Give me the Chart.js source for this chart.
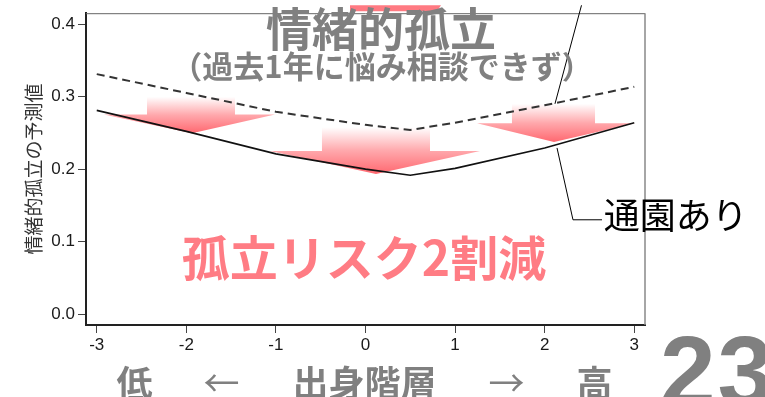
<!DOCTYPE html>
<html>
<head>
<meta charset="utf-8">
<script src="https://cdn.jsdelivr.net/npm/chart.js@4"></script>
<style>
  html, body { margin: 0; padding: 0; background: #ffffff; }
  #wrap { width: 765px; height: 397px; position: relative; }
</style>
</head>
<body>
<div id="wrap"><canvas id="chart" width="765" height="397"></canvas></div>
<script>
// Social class of origin (standardised) and predicted emotional isolation
const socialClass = [-3, -2, -1, 0, 0.5, 1, 2, 3];
const withoutNursery = [0.331, 0.305, 0.279, 0.261, 0.254, 0.264, 0.288, 0.3135];
const withNursery = [0.281, 0.252, 0.221, 0.200, 0.1915, 0.201, 0.229, 0.264];
const xTicks = [-3, -2, -1, 0, 1, 2, 3];
const yTicks = [0, 0.1, 0.2, 0.3, 0.4];

const GRAY = '#808080';
const PINK = '#ff7c84';
const JP = '"Noto Sans CJK JP", "Noto Sans", sans-serif';

// Block arrows showing the drop from the dashed to the solid line (data units)
const dropArrows = [
  { shaft: [-2.439, -1.457], top: 0.2997, head: [-2.92, -1.010], base: 0.2753, tip: [-1.937, 0.2495] },
  { shaft: [-0.486, 0.720], top: 0.2577, head: [-1.066, 1.278], base: 0.2251, tip: [0.117, 0.1932] },
  { shaft: [1.635, 2.562], top: 0.2900, head: [1.245, 3.009], base: 0.2631, tip: [2.104, 0.2373] }
];

const pts = vals => socialClass.map((x, i) => ({ x: x, y: vals[i] }));

const decorations = {
  id: 'decorations',
  beforeDatasetsDraw(chart) {
    const { ctx, scales: { x: xs, y: ys } } = chart;
    const X = v => xs.getPixelForValue(v);
    const Y = v => ys.getPixelForValue(v);
    ctx.save();
    dropArrows.forEach(a => {
      const top = Y(a.top), base = Y(a.base), tipY = Y(a.tip[1]);
      const g = ctx.createLinearGradient(0, top, 0, tipY);
      g.addColorStop(0, 'rgba(255,255,255,1)');
      g.addColorStop(0.5, 'rgb(255,168,172)');
      g.addColorStop(1, 'rgb(255,104,112)');
      ctx.fillStyle = g;
      ctx.beginPath();
      ctx.moveTo(X(a.shaft[0]), top);
      ctx.lineTo(X(a.shaft[1]), top);
      ctx.lineTo(X(a.shaft[1]), base);
      ctx.lineTo(X(a.head[1]), base);
      ctx.lineTo(X(a.tip[0]), tipY);
      ctx.lineTo(X(a.head[0]), base);
      ctx.lineTo(X(a.shaft[0]), base);
      ctx.closePath();
      ctx.fill();
    });
    ctx.restore();
  },
  afterDraw(chart) {
    const { ctx, chartArea: ca, scales: { x: xs, y: ys } } = chart;
    const X = v => xs.getPixelForValue(v);
    const Y = v => ys.getPixelForValue(v);
    ctx.save();

    // top and right frame lines
    ctx.strokeStyle = '#666';
    ctx.lineWidth = 1;
    ctx.beginPath();
    ctx.moveTo(ca.left, ca.top + 0.5);
    ctx.lineTo(ca.right, ca.top + 0.5);
    ctx.stroke();
    ctx.strokeStyle = '#888';
    ctx.lineWidth = 1.5;
    ctx.beginPath();
    ctx.moveTo(ca.right, ca.top);
    ctx.lineTo(ca.right, ca.bottom);
    ctx.stroke();

    // tail of an arrow above the plot
    ctx.fillStyle = 'rgb(255,122,130)';
    ctx.beginPath();
    ctx.moveTo(X(-0.173), Y(0.4259));
    ctx.lineTo(X(0.843), Y(0.4259));
    ctx.lineTo(X(0.798), Y(0.4178));
    ctx.lineTo(X(-0.173), Y(0.4178));
    ctx.closePath();
    ctx.fill();

    // leader lines
    ctx.strokeStyle = '#000';
    ctx.lineWidth = 1;
    ctx.beginPath();
    ctx.moveTo(X(2.115), Y(0.290));
    ctx.lineTo(X(2.411), Y(0.4259));
    ctx.stroke();
    ctx.beginPath();
    ctx.moveTo(X(2.138), Y(0.2292));
    ctx.lineTo(X(2.316), Y(0.1301));
    ctx.lineTo(X(2.640), Y(0.1301));
    ctx.stroke();

    ctx.fillStyle = '#000';
    ctx.font = '36px ' + JP;
    ctx.textAlign = 'left';
    ctx.textBaseline = 'middle';
    ctx.fillText('通園あり', X(2.66), Y(0.1356));

    // headings
    ctx.textAlign = 'center';
    ctx.fillStyle = GRAY;
    ctx.font = 'bold 46px ' + JP;
    ctx.fillText('情緒的孤立', 381, 29);
    ctx.font = 'bold 31px ' + JP;
    ctx.fillText('（過去1年に悩み相談できず）', 382, 66);

    ctx.fillStyle = PINK;
    ctx.font = 'bold 48px ' + JP;
    ctx.fillText('孤立リスク2割減', 364, 258);

    // axis caption
    ctx.fillStyle = GRAY;
    ctx.font = 'bold 36px ' + JP;
    ctx.fillText('低', 134.5, 383);
    ctx.fillText('出身階層', 364.5, 383);
    ctx.fillText('高', 594.5, 383);
    ctx.font = '36px ' + JP;
    ctx.fillText('←', 221.5, 383);
    ctx.fillText('→', 506.5, 383);

    // page number
    ctx.textAlign = 'left';
    ctx.textBaseline = 'alphabetic';
    ctx.font = 'bold 100px "Liberation Sans", Arial, sans-serif';
    ctx.letterSpacing = '2px';
    ctx.fillText('23', 660, 406);
    ctx.restore();
  }
};

new Chart(document.getElementById('chart'), {
  type: 'line',
  data: {
    datasets: [
      {
        label: '通園なし',
        data: pts(withoutNursery),
        borderColor: '#333',
        borderWidth: 2,
        borderDash: [8, 5],
        pointRadius: 0,
        tension: 0,
        fill: false
      },
      {
        label: '通園あり',
        data: pts(withNursery),
        borderColor: '#111',
        borderWidth: 1.6,
        pointRadius: 0,
        tension: 0,
        fill: false
      }
    ]
  },
  options: {
    responsive: false,
    animation: false,
    devicePixelRatio: 1,
    layout: { padding: { top: 8, right: 120, left: 0, bottom: 0 } },
    plugins: { legend: { display: false }, tooltip: { enabled: false } },
    scales: {
      x: {
        type: 'linear',
        min: -3.12,
        max: 3.12,
        afterBuildTicks: s => { s.ticks = xTicks.map(v => ({ value: v })); },
        afterFit: s => { s.height = 72; },
        ticks: {
          callback: v => String(v),
          color: '#1a1a1a',
          font: { family: '"Liberation Sans", Arial, sans-serif', size: 17 },
          padding: 2,
          maxRotation: 0
        },
        grid: { display: true, drawOnChartArea: false, drawTicks: true, tickLength: 8, color: '#444' },
        border: { display: true, color: '#222', width: 2 }
      },
      y: {
        type: 'linear',
        min: -0.015,
        max: 0.415,
        afterBuildTicks: s => { s.ticks = yTicks.map(v => ({ value: v })); },
        afterFit: s => { s.width = 86; },
        ticks: {
          callback: v => v.toFixed(1),
          color: '#1a1a1a',
          font: { family: '"Liberation Sans", Arial, sans-serif', size: 17 },
          padding: 3
        },
        grid: { display: true, drawOnChartArea: false, drawTicks: true, tickLength: 8, color: '#444' },
        border: { display: true, color: '#222', width: 2 },
        title: {
          display: true,
          text: '情緒的孤立の予測値',
          color: '#333',
          font: { family: JP, size: 19 },
          padding: { top: 22, bottom: 0 }
        }
      }
    }
  },
  plugins: [decorations]
});
</script>
</body>
</html>
